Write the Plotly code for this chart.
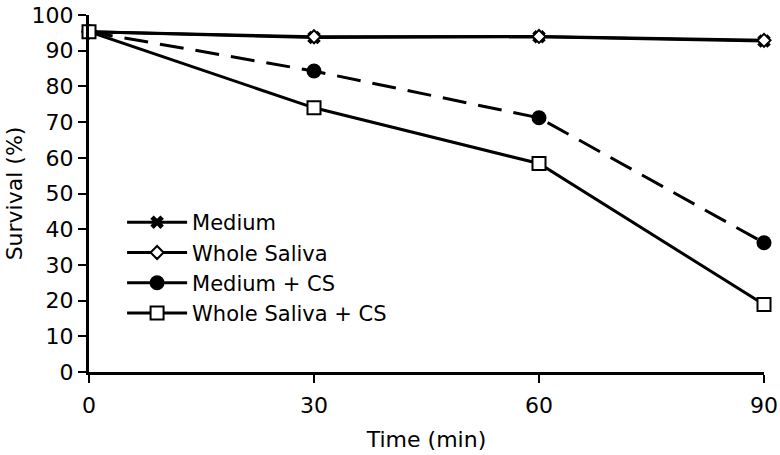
import plotly.graph_objects as go

time_min = [0, 30, 60, 90]
medium = [95.3, 93.7, 93.9, 92.7]
whole_saliva = [95.3, 93.9, 94.0, 92.9]
medium_cs = [95.3, 84.3, 71.2, 36.2]
whole_saliva_cs = [95.3, 74.0, 58.4, 18.9]
x_ticks = [0, 30, 60, 90]
y_ticks = [0, 10, 20, 30, 40, 50, 60, 70, 80, 90, 100]

FONT = "DejaVu Sans, sans-serif"
fig = go.Figure()
fig.add_trace(go.Scatter(x=time_min, y=medium, name="Medium", mode="lines+markers",
                         line=dict(color="black", width=3),
                         marker=dict(symbol="x", size=12, color="black"), cliponaxis=False))
fig.add_trace(go.Scatter(x=time_min, y=whole_saliva, name="Whole Saliva", mode="lines+markers",
                         line=dict(color="black", width=3),
                         marker=dict(symbol="diamond", size=10, color="white",
                                     line=dict(color="black", width=2)), cliponaxis=False))
fig.add_trace(go.Scatter(x=time_min, y=medium_cs, name="Medium + CS", mode="lines+markers",
                         line=dict(color="black", width=3, dash="24px,12px"),
                         marker=dict(symbol="circle", size=15, color="black"), cliponaxis=False))
fig.add_trace(go.Scatter(x=time_min, y=whole_saliva_cs, name="Whole Saliva + CS", mode="lines+markers",
                         line=dict(color="black", width=3),
                         marker=dict(symbol="square", size=13, color="white",
                                     line=dict(color="black", width=2)), cliponaxis=False))

fig.update_layout(
    template="none",
    width=780, height=455,
    margin=dict(l=89, r=16, t=15, b=83, pad=0),
    paper_bgcolor="white", plot_bgcolor="white",
    font=dict(family=FONT, size=22, color="black"),
    showlegend=True,
    legend=dict(x=0.049, y=0.476, xanchor="left", yanchor="top",
                bgcolor="rgba(0,0,0,0)", borderwidth=0, font=dict(size=21),
                tracegroupgap=0, itemwidth=60),
    xaxis=dict(range=[0, 90], tickvals=x_ticks, showgrid=False, zeroline=False,
               showline=True, linecolor="black", linewidth=3, automargin=False,
               ticks="outside", ticklen=8, tickwidth=2, tickcolor="black",
               ticklabeloverflow="allow", ticklabelstandoff=4,
               title=dict(text="Time (min)", standoff=15, font=dict(size=22)),
               tickfont=dict(size=22)),
    yaxis=dict(range=[0, 100], tickvals=y_ticks, showgrid=False, zeroline=False,
               showline=True, linecolor="black", linewidth=3, automargin=False,
               ticks="outside", ticklen=8, tickwidth=2, tickcolor="black",
               ticklabeloverflow="allow",
               title=dict(text="Survival (%)", standoff=3, font=dict(size=22)),
               tickfont=dict(size=22)),
)
# Remove the default page margin so the figure fills the window exactly.
fig.write_html("out.html", config={"displayModeBar": False},
               post_script="document.body.style.margin='0';")
